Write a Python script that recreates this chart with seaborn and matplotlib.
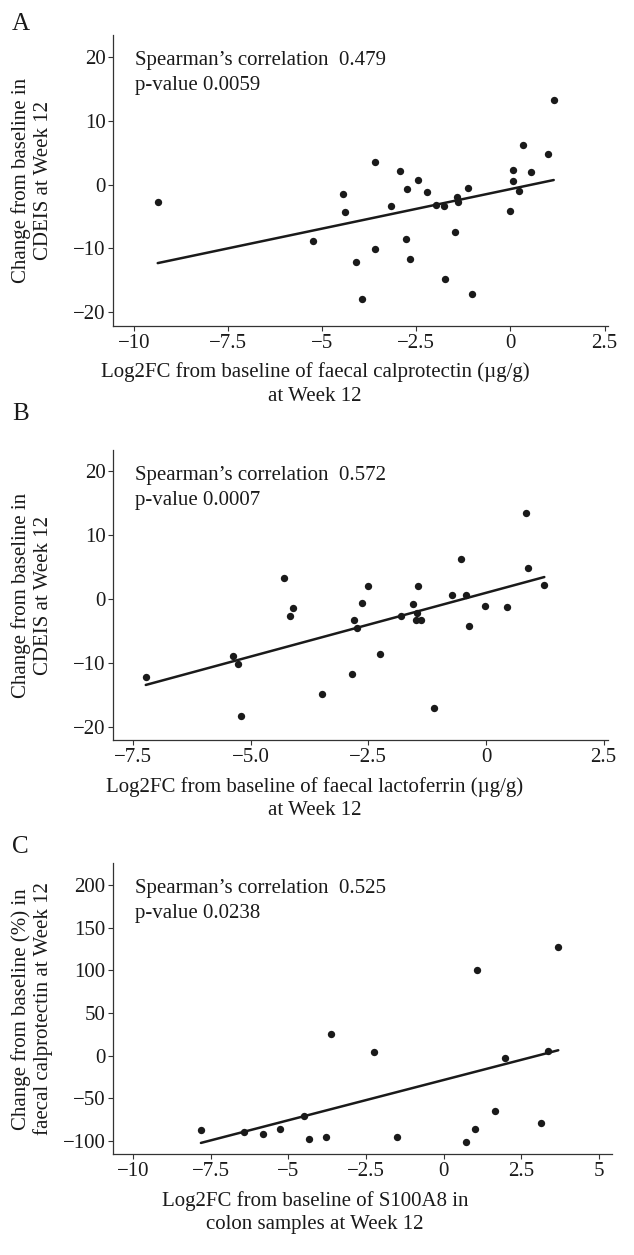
import numpy as np
import matplotlib
matplotlib.use("Agg")
import matplotlib.pyplot as plt
import seaborn as sns

# Panel A: calprotectin log2FC vs change in CDEIS
a_x = [-9.37, -4.46, -4.39, -5.25, 1.15, 0.33, 0.99, -3.61, -2.93, 0.08, 0.54,
       -2.45, 0.08, -2.76, -1.12, -2.21, 0.24, -3.17, -1.98, -1.76, -1.41, -1.38,
       -0.01, -1.47, -2.78, -3.59, -4.09, -2.67, -1.75, -1.03, -3.93]
a_y = [-2.8, -1.4, -4.3, -8.9, 13.3, 6.2, 4.8, 3.6, 2.15, 2.26, 2.0,
       0.8, 0.6, -0.7, -0.6, -1.2, -1.0, -3.3, -3.2, -3.4, -2.0, -2.8,
       -4.1, -7.4, -8.5, -10.1, -12.2, -11.7, -14.8, -17.1, -18.0]

# Panel B: lactoferrin log2FC vs change in CDEIS
b_x = [-7.23, -4.30, -4.11, -4.16, -5.38, -5.26, -3.49, -5.21, 0.85, -0.54,
       0.89, -2.50, -1.44, 1.24, -2.63, -0.73, -0.42, -1.56, -0.01, 0.44,
       -1.80, -1.47, -1.48, -1.38, -2.80, -2.74, -0.36, -2.26, -2.84, -1.11]
b_y = [-12.1, 3.4, -1.4, -2.6, -8.9, -10.1, -14.8, -18.2, 13.4, 6.3,
       4.9, 2.1, 2.1, 2.2, -0.6, 0.6, 0.7, -0.8, -1.1, -1.2,
       -2.6, -2.1, -3.3, -3.3, -3.3, -4.4, -4.1, -8.6, -11.7, -17.0]

# Panel C: S100A8 log2FC vs change in faecal calprotectin (%)
c_x = [-7.81, -6.41, -5.82, -5.26, -4.49, -4.33, -3.80, -3.63, -2.23, -1.50,
       0.71, 1.00, 1.08, 1.64, 1.96, 3.12, 3.37, 3.69]
c_y = [-87.6, -89.9, -92.3, -85.7, -71.2, -97.4, -95.4, 26.0, 4.0, -95.8,
       -101.3, -86.0, 100.2, -64.3, -2.3, -79.0, 6.1, 127.6]

a_xticks = [-10, -7.5, -5, -2.5, 0, 2.5]
a_xlabels = ["\u221210", "\u22127.5", "\u22125", "\u22122.5", "0", "2.5"]
b_xticks = [-7.5, -5.0, -2.5, 0, 2.5]
b_xlabels = ["\u22127.5", "\u22125.0", "\u22122.5", "0", "2.5"]
c_xticks = [-10, -7.5, -5, -2.5, 0, 2.5, 5]
c_xlabels = ["\u221210", "\u22127.5", "\u22125", "\u22122.5", "0", "2.5", "5"]
cdeis_yticks = [-20, -10, 0, 10, 20]
c_yticks = [-100, -50, 0, 50, 100, 150, 200]

stats = [("0.479", "0.0059"), ("0.572", "0.0007"), ("0.525", "0.0238")]

sns.set_style("ticks")
plt.rcParams['font.family'] = ['Liberation Serif', 'DejaVu Serif']
plt.rcParams['axes.unicode_minus'] = True

W, H = 634, 1255
fig = plt.figure(figsize=(W / 100, H / 100), dpi=100)

ink = "#1a1a1a"
fs = 15


def px_axes(left, top, right, bottom):
    return fig.add_axes([left / W, 1 - bottom / H, (right - left) / W, (bottom - top) / H])


panels = [
    dict(box=(113.3, 35, 608.3, 326), x=a_x, y=a_y, xlim=(-10.55, 2.6), ylim=(-22.2, 23.5),
         xt=a_xticks, xl=a_xlabels, yt=cdeis_yticks, letter="A", lb=30,
         ylab="Change from baseline in\nCDEIS at Week 12",
         xlab="Log2FC from baseline of faecal calprotectin (\u00b5g/g)\nat Week 12"),
    dict(box=(113.3, 450, 608.3, 740.3), x=b_x, y=b_y, xlim=(-7.92, 2.6), ylim=(-22.0, 23.3),
         xt=b_xticks, xl=b_xlabels, yt=cdeis_yticks, letter="B", lb=420,
         ylab="Change from baseline in\nCDEIS at Week 12",
         xlab="Log2FC from baseline of faecal lactoferrin (\u00b5g/g)\nat Week 12"),
    dict(box=(113.3, 863.3, 611.7, 1154.3), x=c_x, y=c_y, xlim=(-10.63, 5.41), ylim=(-115.7, 225.8),
         xt=c_xticks, xl=c_xlabels, yt=c_yticks, letter="C", lb=853,
         ylab="Change from baseline (%) in\nfaecal calprotectin at Week 12",
         xlab="Log2FC from baseline of S100A8 in\ncolon samples at Week 12"),
]

for p, (rho, pval) in zip(panels, stats):
    l, t, r, b = p["box"]
    ax = px_axes(l, t, r, b)
    sns.regplot(x=np.array(p["x"]), y=np.array(p["y"]), ci=None, ax=ax,
                scatter_kws=dict(s=28, color=ink, linewidths=0, alpha=1),
                line_kws=dict(color=ink, lw=1.8))
    ax.set_xlim(*p["xlim"])
    ax.set_ylim(*p["ylim"])
    ax.set_xticks(p["xt"])
    ax.set_xticklabels(p["xl"])
    ax.set_yticks(p["yt"])
    ax.set_yticklabels([str(v).replace("-", "\u2212") for v in p["yt"]])
    ax.set_xlabel("")
    ax.set_ylabel("")
    sns.despine(ax=ax)
    for s in ["left", "bottom"]:
        ax.spines[s].set_color("#333333")
        ax.spines[s].set_linewidth(0.9)
    ax.tick_params(axis="both", labelsize=fs, length=3.5, width=0.8,
                   color="#333333", labelcolor=ink, pad=2)
    ax.text(0.044, 0.912, f"Spearman\u2019s correlation  {rho}", transform=ax.transAxes,
            fontsize=fs, color=ink, va="center", ha="left")
    ax.text(0.044, 0.826, f"p-value {pval}", transform=ax.transAxes,
            fontsize=fs, color=ink, va="center", ha="left")
    # axis titles
    fig.text(32 / W, 1 - ((t + b) / 2) / H, p["ylab"], rotation=90, ha="center", va="center",
             fontsize=fs, color=ink, multialignment="center", linespacing=1.2)
    fig.text(315 / W, 1 - (b + 58) / H, p["xlab"], ha="center", va="center",
             fontsize=fs, color=ink, multialignment="center", linespacing=1.3)
    fig.text(12 / W, 1 - p["lb"] / H, p["letter"], ha="left", va="baseline",
             fontsize=18, color=ink)

fig.savefig("out.png", dpi=100)
